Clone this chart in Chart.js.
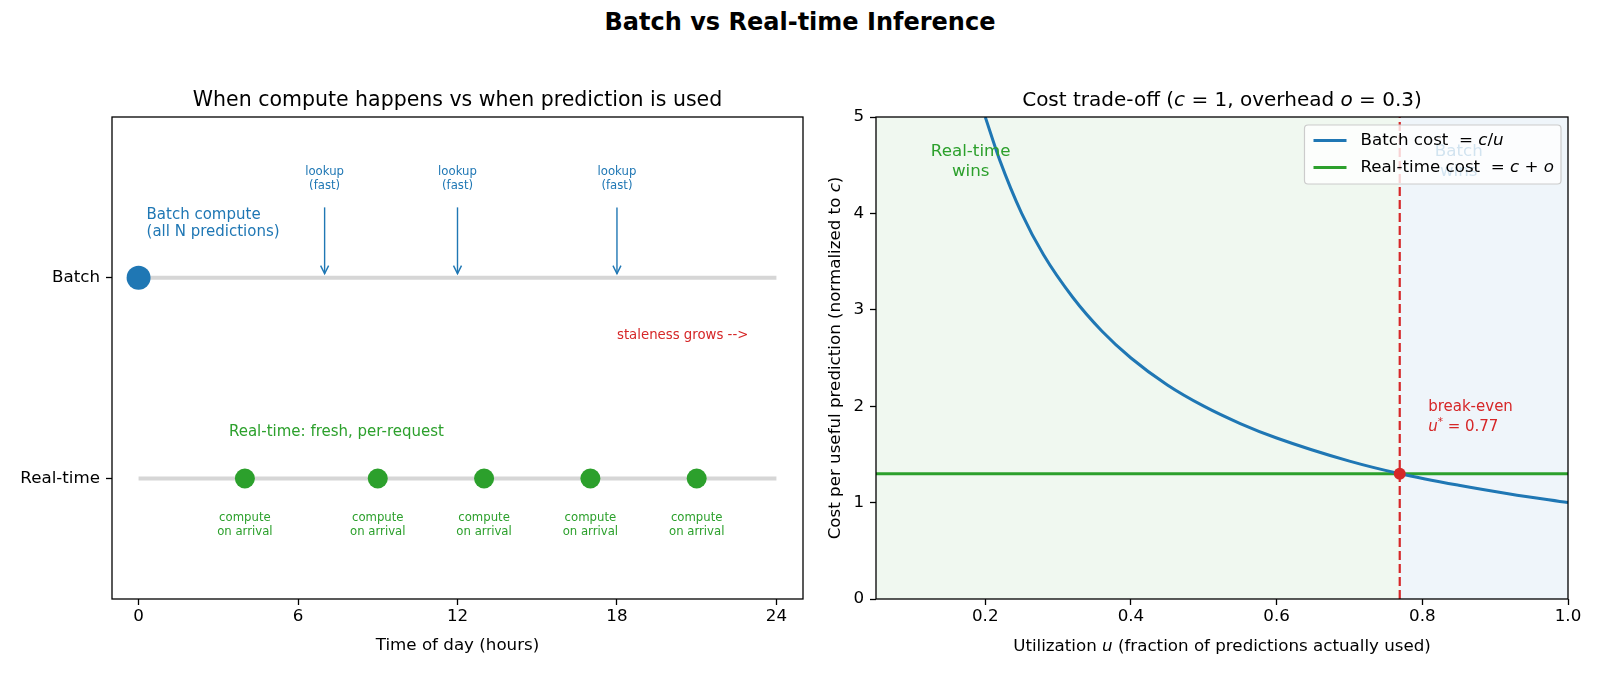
<!DOCTYPE html>
<html>
<head>
<meta charset="utf-8">
<script src="https://cdn.jsdelivr.net/npm/chart.js@4.4.1/dist/chart.umd.min.js"></script>
<style>
  body { margin: 0; background: #fff; width: 1600px; height: 677px; overflow: hidden; position: relative; font-family: 'DejaVu Sans', sans-serif; }
  #suptitle { position: absolute; left: 0; top: 8px; width: 1600px; text-align: center; font-weight: bold; font-size: 24px; line-height: 28px; color: #000; }
  #left { position: absolute; left: 0; top: 0; }
  #right { position: absolute; left: 815px; top: 0; }
</style>
</head>
<body>
<div id="suptitle">Batch vs Real-time Inference</div>
<canvas id="left" width="815" height="677"></canvas>
<canvas id="right" width="785" height="677"></canvas>
<script>
// left panel: timeline
const timelineSpan = [0, 24];
const hourTicks = [0, 6, 12, 18, 24];
const rowTicks = [0, 1];
const rowLabels = ['Real-time', 'Batch'];
const batchComputeHour = [0];
const lookupHours = [7, 12, 18];
const requestHours = [4, 9, 13, 17, 21];

// right panel: cost trade-off
const batchU = [0.2, 0.22, 0.25, 0.28, 0.32, 0.36, 0.4, 0.45, 0.5, 0.55, 0.6, 0.7, 0.769, 0.85, 0.92, 1.0];
const batchCost = [5.0, 4.55, 4.0, 3.57, 3.13, 2.78, 2.5, 2.22, 2.0, 1.82, 1.67, 1.43, 1.3, 1.18, 1.09, 1.0];
const realTimeCost = 1.3;
const breakEvenU = 0.769;
const utilRange = [0.05, 1.0];
const utilTicks = [0.2, 0.4, 0.6, 0.8, 1.0];
const costTicks = [0, 1, 2, 3, 4, 5];

const BLUE = '#1f77b4', GREEN = '#2ca02c', RED = '#d62728';
const FAM = "'DejaVu Sans', sans-serif";
const FS = 16.7;

Chart.defaults.font.family = FAM;
Chart.defaults.color = '#000';

// split "text $math$ text" into styled pieces, letters in math are italic
function parseRich(str) {
  const out = [];
  str.split('$').forEach((part, i) => {
    if (i % 2 === 0) { if (part) out.push({ t: part }); return; }
    for (let k = 0; k < part.length; k++) {
      const ch = part[k];
      if (ch === ' ') continue;
      if (ch === '^') { out.push({ t: part[k + 1], sup: true }); k++; continue; }
      if (ch === '=' || ch === '+') { out.push({ t: ' ' + ch + ' ' }); continue; }
      const it = /[a-zA-Z]/.test(ch);
      const last = out[out.length - 1];
      if (last && !last.sup && !!last.it === it && !/^ [=+] $/.test(last.t)) last.t += ch;
      else out.push({ t: ch, it: it });
    }
  });
  return out;
}

function drawRich(ctx, str, x, y, size, color, align) {
  const segs = parseRich(str);
  const fontOf = s => (s.it ? 'italic ' : '') + (s.sup ? size * 0.7 : size) + 'px ' + FAM;
  ctx.save();
  ctx.fillStyle = color;
  ctx.textBaseline = 'middle';
  ctx.textAlign = 'left';
  let w = 0;
  segs.forEach(s => { ctx.font = fontOf(s); s.w = ctx.measureText(s.t).width; w += s.w; });
  let cx = align === 'center' ? x - w / 2 : align === 'right' ? x - w : x;
  const yy = y + 1.5;
  segs.forEach(s => {
    ctx.font = fontOf(s);
    ctx.fillText(s.t, cx, s.sup ? yy - size * 0.35 : yy);
    cx += s.w;
  });
  ctx.restore();
  return w;
}

function drawLines(ctx, lines, x, y, size, color, align, step) {
  const top = y - (lines.length - 1) * step / 2;
  lines.forEach((l, i) => drawRich(ctx, l, x, top + i * step, size, color, align));
}

function drawFrame(ctx, a) {
  ctx.save();
  ctx.strokeStyle = '#000';
  ctx.lineWidth = 1.3;
  ctx.strokeRect(a.left, a.top, a.right - a.left, a.bottom - a.top);
  ctx.restore();
}

function axisStyle(extra) {
  return Object.assign({
    type: 'linear',
    border: { display: false },
    grid: { display: true, drawOnChartArea: false, drawTicks: true, tickLength: 6, tickWidth: 1.3, tickColor: '#000', color: '#000' },
  }, extra);
}

const timelineDecor = {
  id: 'timelineDecor',
  afterDatasetsDraw(chart) {
    const { ctx, scales: { x, y } } = chart;
    ctx.save();
    ctx.strokeStyle = BLUE;
    ctx.lineWidth = 1.4;
    lookupHours.forEach(h => {
      const px = x.getPixelForValue(h);
      const y0 = y.getPixelForValue(1.35), y1 = y.getPixelForValue(1.02);
      ctx.beginPath(); ctx.moveTo(px, y0); ctx.lineTo(px, y1); ctx.stroke();
      ctx.beginPath(); ctx.moveTo(px - 4, y1 - 8); ctx.lineTo(px, y1); ctx.lineTo(px + 4, y1 - 8); ctx.stroke();
      drawLines(ctx, ['lookup', '(fast)'], px, y.getPixelForValue(1.5), 11.7, BLUE, 'center', 14.3);
    });
    ctx.restore();

    drawLines(ctx, ['Batch compute', '(all N predictions)'], x.getPixelForValue(0.3), y.getPixelForValue(1.275), 15, BLUE, 'left', 17);
    drawRich(ctx, 'staleness grows -->', x.getPixelForValue(18), y.getPixelForValue(0.72), 13.3, RED, 'left');
    drawRich(ctx, 'Real-time: fresh, per-request', x.getPixelForValue(3.4), y.getPixelForValue(0.24), 15, GREEN, 'left');
    requestHours.forEach(h => {
      drawLines(ctx, ['compute', 'on arrival'], x.getPixelForValue(h), y.getPixelForValue(-0.225), 11.7, GREEN, 'center', 14);
    });
  },
  afterDraw(chart) {
    const { ctx, chartArea: a } = chart;
    drawFrame(ctx, a);
    drawRich(ctx, 'When compute happens vs when prediction is used', (a.left + a.right) / 2, 99.5, 20.5, '#000', 'center');
    drawRich(ctx, 'Time of day (hours)', (a.left + a.right) / 2, 644.5, FS, '#000', 'center');
  }
};

new Chart(document.getElementById('left'), {
  type: 'scatter',
  data: {
    datasets: [
      { data: batchComputeHour.map(h => ({ x: h, y: 1 })), pointRadius: 12, backgroundColor: BLUE, borderWidth: 0, order: 0 },
      { data: requestHours.map(h => ({ x: h, y: 0 })), pointRadius: 10, backgroundColor: GREEN, borderWidth: 0, order: 0 },
      { data: timelineSpan.map(h => ({ x: h, y: 1 })), showLine: true, borderColor: '#d6d6d6', borderWidth: 4, pointRadius: 0, order: 1 },
      { data: timelineSpan.map(h => ({ x: h, y: 0 })), showLine: true, borderColor: '#d6d6d6', borderWidth: 4, pointRadius: 0, order: 1 }
    ]
  },
  options: {
    responsive: false,
    animation: false,
    events: [],
    layout: { padding: { left: 0, top: 117, right: 11, bottom: 0 } },
    plugins: { legend: { display: false }, tooltip: { enabled: false }, title: { display: false } },
    scales: {
      x: axisStyle({
        min: -1, max: 25,
        afterBuildTicks: s => { s.ticks = hourTicks.map(v => ({ value: v })); },
        afterFit: s => { s.height = 78; s.paddingLeft = 0; s.paddingRight = 0; },
        ticks: { autoSkip: false, maxRotation: 0, padding: 2, font: { size: FS }, color: '#000' }
      }),
      y: axisStyle({
        min: -0.6, max: 1.8,
        afterBuildTicks: s => { s.ticks = rowTicks.map(v => ({ value: v })); },
        afterFit: s => { s.width = 112; s.paddingTop = 0; s.paddingBottom = 0; },
        ticks: { autoSkip: false, padding: 6, font: { size: FS }, color: '#000', callback: v => rowLabels[v] }
      })
    }
  },
  plugins: [timelineDecor]
});

const costDecor = {
  id: 'costDecor',
  beforeDatasetsDraw(chart) {
    const { ctx, chartArea: a, scales: { x } } = chart;
    const xb = x.getPixelForValue(breakEvenU);
    ctx.save();
    ctx.fillStyle = 'rgba(44,160,44,0.07)';
    ctx.fillRect(a.left, a.top, xb - a.left, a.bottom - a.top);
    ctx.fillStyle = 'rgba(31,119,180,0.07)';
    ctx.fillRect(xb, a.top, a.right - xb, a.bottom - a.top);
    ctx.restore();
  },
  afterDatasetsDraw(chart) {
    const { ctx, chartArea: a, scales: { x, y } } = chart;
    drawLines(ctx, ['Real-time', 'wins'], x.getPixelForValue(0.18), y.getPixelForValue(4.55), FS, GREEN, 'center', 19.5);
    drawLines(ctx, ['Batch', 'wins'], x.getPixelForValue(0.85), y.getPixelForValue(4.55), FS, BLUE, 'center', 19.5);
    drawLines(ctx, ['break-even', '$u^*= 0.77$'], x.getPixelForValue(0.808), y.getPixelForValue(1.9), 15, RED, 'left', 20);

    // legend box, upper right
    const items = chart.data.datasets.filter(d => d.label);
    ctx.save();
    let tw = 0;
    items.forEach(d => {
      const segs = parseRich(d.label);
      let w = 0;
      segs.forEach(s => { ctx.font = (s.it ? 'italic ' : '') + FS + 'px ' + FAM; w += ctx.measureText(s.t).width; });
      tw = Math.max(tw, w);
    });
    const bw = 56 + tw + 7, bh = 59;
    const bx = a.right - 7 - bw, by = a.top + 8;
    ctx.beginPath();
    ctx.roundRect(bx, by, bw, bh, 3.5);
    ctx.fillStyle = 'rgba(255,255,255,0.8)';
    ctx.fill();
    ctx.strokeStyle = '#cccccc';
    ctx.lineWidth = 1.2;
    ctx.stroke();
    items.forEach((d, i) => {
      const cy = by + 15.5 + i * 27;
      ctx.strokeStyle = d.borderColor;
      ctx.lineWidth = 3;
      ctx.beginPath(); ctx.moveTo(bx + 9, cy); ctx.lineTo(bx + 42, cy); ctx.stroke();
      drawRich(ctx, d.label, bx + 56, cy - 1, FS, '#000', 'left');
    });
    ctx.restore();
  },
  afterDraw(chart) {
    const { ctx, chartArea: a } = chart;
    drawFrame(ctx, a);
    const cx = (a.left + a.right) / 2, cy = (a.top + a.bottom) / 2;
    drawRich(ctx, 'Cost trade-off ($c = 1$, overhead $o = 0.3$)', cx, 99.5, 20, '#000', 'center');
    drawRich(ctx, 'Utilization $u$ (fraction of predictions actually used)', cx, 645.5, FS, '#000', 'center');
    ctx.save();
    ctx.translate(19, cy);
    ctx.rotate(-Math.PI / 2);
    drawRich(ctx, 'Cost per useful prediction (normalized to $c$)', 0, 0, FS, '#000', 'center');
    ctx.restore();
  }
};

new Chart(document.getElementById('right'), {
  type: 'scatter',
  data: {
    datasets: [
      { label: 'Batch cost $= c/u$', data: batchU.map((u, i) => ({ x: u, y: batchCost[i] })), showLine: true, cubicInterpolationMode: 'monotone', borderColor: BLUE, borderWidth: 3, pointRadius: 0, order: 2 },
      { label: 'Real-time cost $= c + o$', data: utilRange.map(u => ({ x: u, y: realTimeCost })), showLine: true, borderColor: GREEN, borderWidth: 3, pointRadius: 0, order: 2 },
      { data: [costTicks[0], costTicks[costTicks.length - 1]].map(c => ({ x: breakEvenU, y: c })), showLine: true, borderColor: RED, borderWidth: 2.2, borderDash: [9, 4], pointRadius: 0, order: 1 },
      { data: [{ x: breakEvenU, y: realTimeCost }], pointRadius: 6, backgroundColor: RED, borderWidth: 0, order: 0 }
    ]
  },
  options: {
    responsive: false,
    animation: false,
    events: [],
    layout: { padding: { left: 0, top: 117, right: 32, bottom: 0 } },
    plugins: { legend: { display: false }, tooltip: { enabled: false }, title: { display: false } },
    scales: {
      x: axisStyle({
        min: utilRange[0], max: utilRange[1],
        afterBuildTicks: s => { s.ticks = utilTicks.map(v => ({ value: v })); },
        afterFit: s => { s.height = 78; s.paddingLeft = 0; s.paddingRight = 0; },
        ticks: { autoSkip: false, maxRotation: 0, padding: 2, font: { size: FS }, color: '#000', callback: v => v.toFixed(1) }
      }),
      y: axisStyle({
        min: costTicks[0], max: costTicks[costTicks.length - 1],
        afterBuildTicks: s => { s.ticks = costTicks.map(v => ({ value: v })); },
        afterFit: s => { s.width = 61; s.paddingTop = 0; s.paddingBottom = 0; },
        ticks: { autoSkip: false, padding: 6, font: { size: FS }, color: '#000' }
      })
    }
  },
  plugins: [costDecor]
});
</script>
</body>
</html>
